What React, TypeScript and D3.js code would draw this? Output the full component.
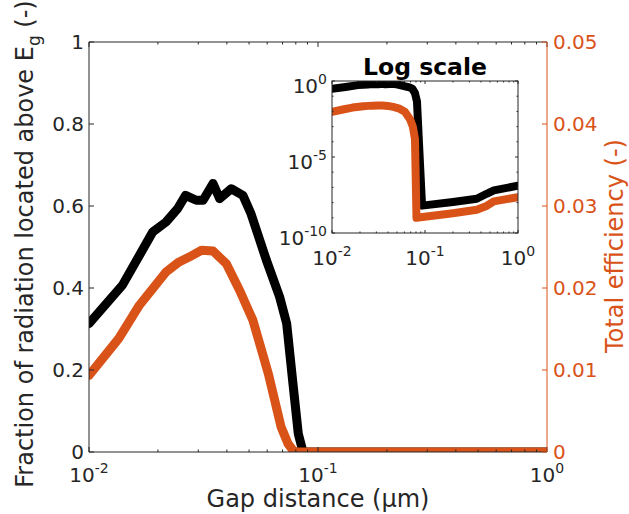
import React from 'react';
import * as d3 from 'd3';

// Gap distance (µm) and fraction of radiation above Eg (left axis, black)
const gapBlack = [0.01, 0.014, 0.019, 0.0217, 0.0244, 0.0264, 0.0294, 0.0315, 0.0348, 0.0372, 0.0418, 0.047, 0.051, 0.0595, 0.068, 0.073, 0.078, 0.082, 0.086, 0.093, 0.2, 0.36, 0.46, 0.55, 1.0];
const fracBlack = [0.313, 0.407, 0.537, 0.561, 0.594, 0.626, 0.614, 0.614, 0.655, 0.618, 0.642, 0.626, 0.581, 0.468, 0.378, 0.313, 0.159, 0.045, 1e-4, 6.3e-9, 1.1e-8, 1.8e-8, 3.8e-8, 6.3e-8, 1.3e-7];

// Gap distance (µm) and total efficiency (right axis, orange)
const gapOrange = [0.01, 0.0135, 0.0166, 0.0217, 0.0245, 0.0275, 0.031, 0.0348, 0.0398, 0.0455, 0.052, 0.0607, 0.069, 0.074, 0.078, 0.081, 0.2, 0.36, 0.46, 0.55, 1.0];
const effOrange = [0.00935, 0.01385, 0.0179, 0.02195, 0.0231, 0.0238, 0.0246, 0.0245, 0.02295, 0.0197, 0.01605, 0.00955, 0.00305, 0.001, 0.00015, 1e-9, 2e-9, 3.4e-9, 6e-9, 1.2e-8, 2.3e-8];

const leftTicks = [0, 0.2, 0.4, 0.6, 0.8, 1];
const leftTickLabels = ['0', '0.2', '0.4', '0.6', '0.8', '1'];
const rightTicks = [0, 0.01, 0.02, 0.03, 0.04, 0.05];
const rightTickLabels = ['0', '0.01', '0.02', '0.03', '0.04', '0.05'];
const xTicks = [0.01, 0.1, 1];
const xTickExps = ['-2', '-1', '0'];
const insetYTicks = [1e-10, 1e-5, 1];
const insetYExps = ['-10', '-5', '0'];

const FONT = "'DejaVu Sans', sans-serif";
const INK = '#262626';
const ORANGE = '#D95319';

function minorLog(lo: number, hi: number) {
  const out: number[] = [];
  for (let d = Math.log10(lo); d < Math.log10(hi); d++) {
    for (let k = 2; k <= 9; k++) out.push(k * Math.pow(10, d));
  }
  return out;
}

export default function App() {
  const m = { l: 89, r: 547, t: 42, b: 452 };
  const x = d3.scaleLog().domain([0.01, 1]).range([m.l, m.r]);
  const yL = d3.scaleLinear().domain([0, 1]).range([m.b, m.t]);
  const yR = d3.scaleLinear().domain([0, 0.05]).range([m.b, m.t]);

  const ins = { l: 332, r: 518, t: 81, b: 233 };
  const xi = d3.scaleLog().domain([0.01, 1]).range([ins.l, ins.r]);
  const yi = d3.scaleLog().domain([1e-10, 1]).range([ins.b, ins.t]);

  const blackPts: [number, number][] = gapBlack.map((g, i) => [g, fracBlack[i]]);
  const orangePts: [number, number][] = gapOrange.map((g, i) => [g, effOrange[i]]);

  const mainBlack = d3.line<[number, number]>().x(d => x(d[0])).y(d => yL(d[1]))(blackPts) || '';
  const mainOrange = d3.line<[number, number]>().x(d => x(d[0])).y(d => yR(d[1]))(orangePts) || '';
  const insBlack = d3.line<[number, number]>().x(d => xi(d[0])).y(d => yi(d[1]))(blackPts) || '';
  const insOrange = d3.line<[number, number]>().x(d => xi(d[0])).y(d => yi(d[1]))(orangePts) || '';

  const xMinor = minorLog(0.01, 1);
  const yiMinor: number[] = [];
  for (let e = -9; e <= -1; e++) if (e !== -5) yiMinor.push(Math.pow(10, e));

  return (
    <svg width={629} height={514} style={{ position: 'absolute', left: 0, top: 0, background: '#fff' }} fontFamily={FONT}>
      <defs>
        <clipPath id="mainClip"><rect x={m.l} y={m.t} width={m.r - m.l} height={m.b - m.t} /></clipPath>
        <clipPath id="insClip"><rect x={ins.l} y={ins.t} width={ins.r - ins.l} height={ins.b - ins.t} /></clipPath>
      </defs>
      <rect x={0} y={0} width={629} height={514} fill="#fff" />

      {/* main data */}
      <g clipPath="url(#mainClip)" fill="none" strokeLinejoin="round" strokeLinecap="round">
        <path d={mainBlack} stroke="#000" strokeWidth={9} />
        <path d={mainOrange} stroke={ORANGE} strokeWidth={9} />
      </g>

      {/* main axes */}
      <g stroke={INK} strokeWidth={1} fill="none">
        <line x1={m.l} y1={m.b} x2={m.r} y2={m.b} />
        <line x1={m.l} y1={m.t} x2={m.r} y2={m.t} />
        <line x1={m.l} y1={m.t} x2={m.l} y2={m.b} />
        {xTicks.map((t, i) => (
          <g key={'xt' + i}>
            <line x1={x(t)} x2={x(t)} y1={m.b} y2={m.b - 5} />
            <line x1={x(t)} x2={x(t)} y1={m.t} y2={m.t + 5} />
          </g>
        ))}
        {xMinor.map((t, i) => (
          <g key={'xm' + i}>
            <line x1={x(t)} x2={x(t)} y1={m.b} y2={m.b - 2.5} />
            <line x1={x(t)} x2={x(t)} y1={m.t} y2={m.t + 2.5} />
          </g>
        ))}
        {leftTicks.map((t, i) => (
          <line key={'lt' + i} x1={m.l} x2={m.l + 5} y1={yL(t)} y2={yL(t)} />
        ))}
      </g>
      <g stroke={ORANGE} strokeWidth={1}>
        <line x1={m.r} y1={m.t} x2={m.r} y2={m.b} />
        {rightTicks.map((t, i) => (
          <line key={'rt' + i} x1={m.r} x2={m.r - 5} y1={yR(t)} y2={yR(t)} />
        ))}
      </g>

      {/* main tick labels */}
      <g fontSize={20} fill={INK}>
        {leftTicks.map((t, i) => (
          <text key={'ll' + i} x={m.l - 5} y={yL(t) + 7.3} textAnchor="end">{leftTickLabels[i]}</text>
        ))}
        {xTicks.map((t, i) => (
          <text key={'xl' + i} x={x(t)} y={m.b + 30} textAnchor="middle">
            10<tspan fontSize={14} dy={-9}>{xTickExps[i]}</tspan>
          </text>
        ))}
      </g>
      <g fontSize={20} fill={ORANGE}>
        {rightTicks.map((t, i) => (
          <text key={'rl' + i} x={m.r + 6} y={yR(t) + 7.3} textAnchor="start">{rightTickLabels[i]}</text>
        ))}
      </g>

      {/* axis labels */}
      <text x={318} y={507} fontSize={24} fill={INK} textAnchor="middle">Gap distance (µm)</text>
      <text transform="translate(33,244) rotate(-90)" fontSize={24} fill={INK} textAnchor="middle">
        Fraction of radiation located above E<tspan fontSize={17} dy={7}>g</tspan><tspan dy={-7}> (-)</tspan>
      </text>
      <text transform="translate(623,246) rotate(-90)" fontSize={24} fill={ORANGE} textAnchor="middle">Total efficiency (-)</text>

      {/* inset */}
      <rect x={ins.l} y={ins.t} width={ins.r - ins.l} height={ins.b - ins.t} fill="#fff" />
      <g clipPath="url(#insClip)" fill="none" strokeLinejoin="round" strokeLinecap="round">
        <path d={insBlack} stroke="#000" strokeWidth={8} />
        <path d={insOrange} stroke={ORANGE} strokeWidth={8} />
      </g>
      <g stroke={INK} strokeWidth={1} fill="none">
        <rect x={ins.l} y={ins.t} width={ins.r - ins.l} height={ins.b - ins.t} />
        {xTicks.map((t, i) => (
          <g key={'ixt' + i}>
            <line x1={xi(t)} x2={xi(t)} y1={ins.b} y2={ins.b - 3} />
            <line x1={xi(t)} x2={xi(t)} y1={ins.t} y2={ins.t + 3} />
          </g>
        ))}
        {xMinor.map((t, i) => (
          <g key={'ixm' + i}>
            <line x1={xi(t)} x2={xi(t)} y1={ins.b} y2={ins.b - 1.5} />
            <line x1={xi(t)} x2={xi(t)} y1={ins.t} y2={ins.t + 1.5} />
          </g>
        ))}
        {insetYTicks.map((t, i) => (
          <g key={'iyt' + i}>
            <line x1={ins.l} x2={ins.l + 3} y1={yi(t)} y2={yi(t)} />
            <line x1={ins.r} x2={ins.r - 3} y1={yi(t)} y2={yi(t)} />
          </g>
        ))}
        {yiMinor.map((t, i) => (
          <g key={'iym' + i}>
            <line x1={ins.l} x2={ins.l + 1.5} y1={yi(t)} y2={yi(t)} />
            <line x1={ins.r} x2={ins.r - 1.5} y1={yi(t)} y2={yi(t)} />
          </g>
        ))}
      </g>
      <g fontSize={20} fill={INK}>
        {xTicks.map((t, i) => (
          <text key={'ixl' + i} x={xi(t)} y={ins.b + 32} textAnchor="middle">
            10<tspan fontSize={14} dy={-9}>{xTickExps[i]}</tspan>
          </text>
        ))}
        {insetYTicks.map((t, i) => (
          <text key={'iyl' + i} x={ins.l - 5} y={yi(t) + 12} textAnchor="end">
            10<tspan fontSize={14} dy={-9}>{insetYExps[i]}</tspan>
          </text>
        ))}
      </g>
      <text x={(ins.l + ins.r) / 2} y={75} fontSize={23.5} fontWeight="bold" fill="#000" textAnchor="middle">Log scale</text>
    </svg>
  );
}
